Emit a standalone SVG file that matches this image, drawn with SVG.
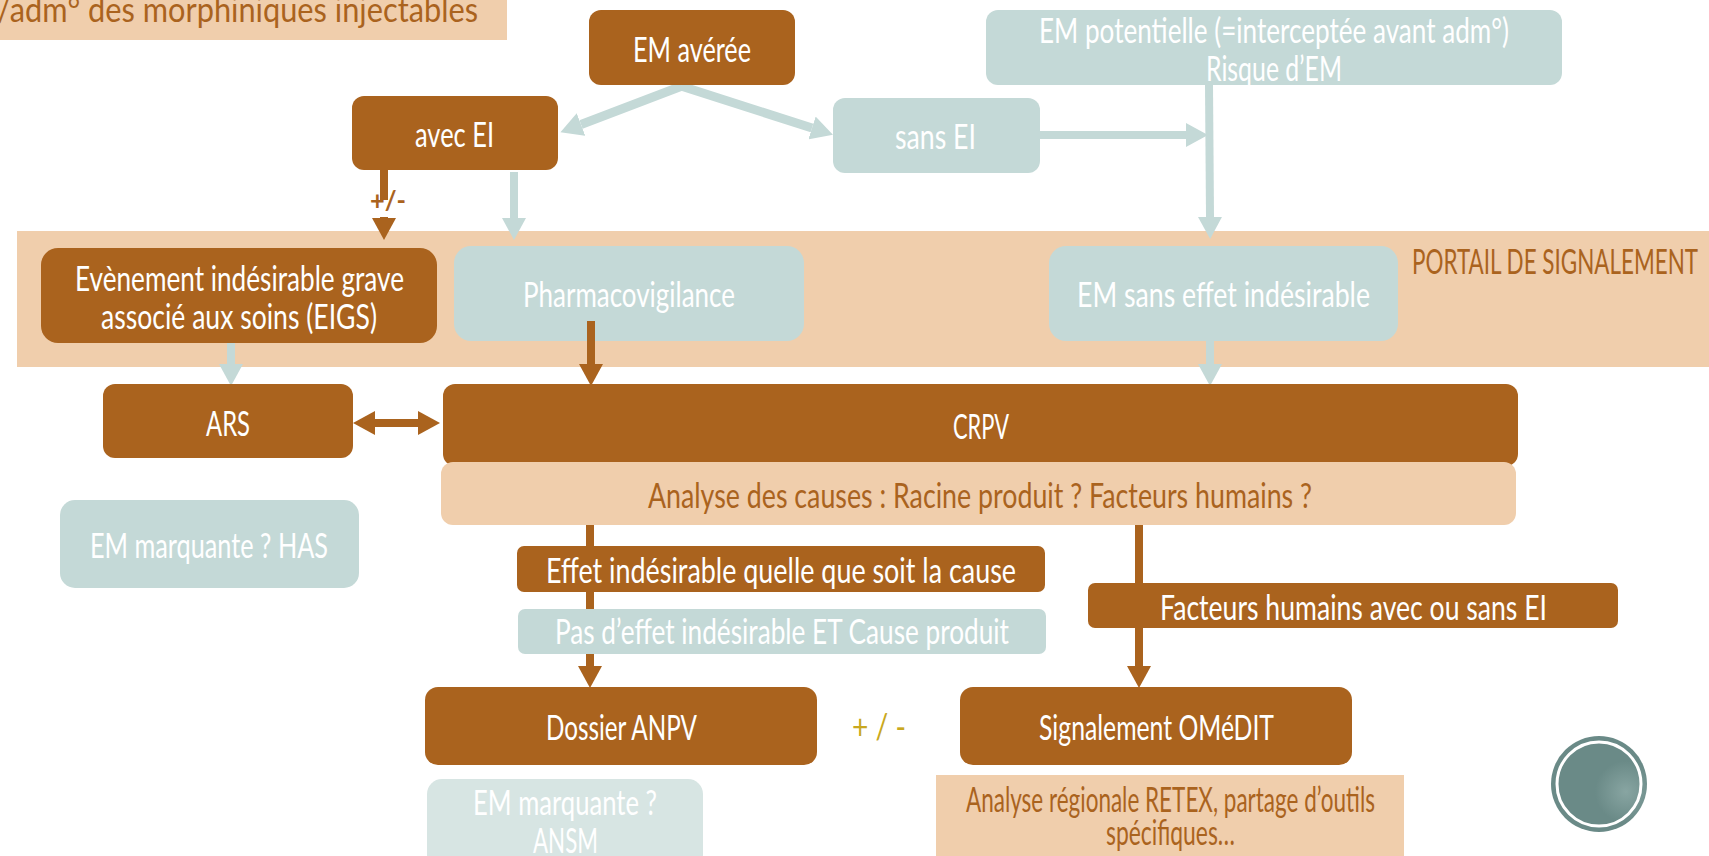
<svg xmlns="http://www.w3.org/2000/svg" width="1709" height="856" viewBox="0 0 1709 856">
<style>
text{font-family:"Lato","Liberation Sans",sans-serif;font-size:34px;font-weight:400}
.w{fill:#fff}.b{fill:#AA631E}.y{fill:#C9A820}
.br{fill:#AA631E}.lt{fill:#C4D9D7}.lt2{fill:#D7E5E3}.pe{fill:#F0CEAC}
.c{fill:none;stroke-width:8}
.d{stroke-width:9}
.cb{stroke:#AA631E}.cl{stroke:#C4D9D7}
.hb{fill:#AA631E}.hl{fill:#C4D9D7}
</style>
<defs>
<marker id="ab" markerUnits="userSpaceOnUse" viewBox="0 -12 22 24" refX="0" refY="0" markerWidth="22" markerHeight="24" orient="auto"><path class="hb" d="M0-12L22 0L0 12Z"/></marker>
<marker id="al" markerUnits="userSpaceOnUse" viewBox="0 -12 22 24" refX="0" refY="0" markerWidth="22" markerHeight="24" orient="auto"><path class="hl" d="M0-12L22 0L0 12Z"/></marker>
<marker id="abs" markerUnits="userSpaceOnUse" viewBox="0 -12 22 24" refX="22" refY="0" markerWidth="22" markerHeight="24" orient="auto"><path class="hb" d="M22-12L0 0L22 12Z"/></marker>
<radialGradient id="tex" cx="0.78" cy="0.58" r="0.32"><stop offset="0" stop-color="#88A5A2"/><stop offset="1" stop-color="#6A8A87"/></radialGradient>
</defs>

<g id="title"><rect class="pe" x="0" y="0" width="507" height="40"/><text class="b" x="-3" y="22" textLength="481" lengthAdjust="spacingAndGlyphs">/adm° des morphiniques injectables</text></g>
<g id="portail"><rect class="pe" x="17" y="231" width="1692" height="136"/><text class="b" x="1412" y="274" textLength="286" lengthAdjust="spacingAndGlyphs">PORTAIL DE SIGNALEMENT</text></g>
<g id="pharmacovigilance"><rect class="lt" x="454" y="246" width="350" height="95" rx="17"/><text class="w" x="523" y="307" textLength="212" lengthAdjust="spacingAndGlyphs">Pharmacovigilance</text></g>

<g id="connectors">
<path class="c d cl" marker-end="url(#al)" d="M682 86L581 124.500"/>
<path class="c d cl" marker-end="url(#al)" d="M681 86L812 128"/>
<path class="c cb" d="M384 170V200"/>
<path class="c cb" marker-end="url(#ab)" d="M384 217V218"/>
<path class="c cl" marker-end="url(#al)" d="M514 172V218"/>
<path class="c cl" marker-end="url(#al)" d="M1040 135H1186"/>
<path class="c cl" marker-end="url(#al)" d="M1209 85L1210 217"/>
<path class="c cl" marker-end="url(#al)" d="M231 343V364"/>
<path class="c cb" marker-end="url(#ab)" d="M591 321V364"/>
<path class="c cl" marker-end="url(#al)" d="M1210 341V364"/>
<path class="c cb" marker-start="url(#abs)" marker-end="url(#ab)" d="M375 423H418"/>
<path class="c cb" marker-end="url(#ab)" d="M590 525V666"/>
<path class="c cb" marker-end="url(#ab)" d="M1139 525V666"/>
</g>

<g id="em-avere"><rect class="br" x="589" y="10" width="206" height="75" rx="12"/><text class="w" x="633" y="62" textLength="118" lengthAdjust="spacingAndGlyphs">EM avérée</text></g>
<g id="avec-ei"><rect class="br" x="352" y="96" width="206" height="74" rx="12"/><text class="w" x="415" y="147" textLength="79" lengthAdjust="spacingAndGlyphs">avec EI</text></g>
<g id="sans-ei"><rect class="lt" x="833" y="98" width="207" height="75" rx="12"/><text class="w" x="895" y="149" textLength="81" lengthAdjust="spacingAndGlyphs">sans EI</text></g>
<g id="em-potentielle"><rect class="lt" x="986" y="10" width="576" height="75" rx="12"/><text class="w" x="1039" y="43" textLength="470" lengthAdjust="spacingAndGlyphs">EM potentielle (=interceptée avant adm°)</text><text class="w" x="1206" y="81" textLength="136" lengthAdjust="spacingAndGlyphs">Risque d’EM</text></g>
<g id="plus-minus-label"><text class="b" x="370" y="210" textLength="36" lengthAdjust="spacingAndGlyphs" style="font-size:27px;font-weight:700">+/-</text></g>
<g id="eigs"><rect class="br" x="41" y="248" width="396" height="95" rx="17"/><text class="w" x="75" y="291" textLength="329" lengthAdjust="spacingAndGlyphs">Evènement indésirable grave</text><text class="w" x="101" y="329" textLength="276" lengthAdjust="spacingAndGlyphs">associé aux soins (EIGS)</text></g>
<g id="em-sans-effet"><rect class="lt" x="1049" y="246" width="349" height="95" rx="17"/><text class="w" x="1077" y="307" textLength="293" lengthAdjust="spacingAndGlyphs">EM sans effet indésirable</text></g>
<g id="ars"><rect class="br" x="103" y="384" width="250" height="74" rx="12"/><text class="w" x="206" y="436" textLength="44" lengthAdjust="spacingAndGlyphs">ARS</text></g>
<g id="crpv"><rect class="br" x="443" y="384" width="1075" height="82" rx="12"/><text class="w" x="953" y="439" textLength="56" lengthAdjust="spacingAndGlyphs">CRPV</text></g>
<g id="analyse-causes"><rect class="pe" x="441" y="462" width="1075" height="63" rx="12"/><text class="b" x="648" y="508" textLength="664" lengthAdjust="spacingAndGlyphs">Analyse des causes : Racine produit ? Facteurs humains ?</text></g>
<g id="em-marquante-has"><rect class="lt" x="60" y="500" width="299" height="88" rx="15"/><text class="w" x="90" y="558" textLength="238" lengthAdjust="spacingAndGlyphs">EM marquante ? HAS</text></g>
<g id="effet-indesirable"><rect class="br" x="517" y="546" width="528" height="46" rx="7"/><text class="w" x="546" y="583" textLength="470" lengthAdjust="spacingAndGlyphs">Effet indésirable quelle que soit la cause</text></g>
<g id="pas-effet"><rect class="lt" x="518" y="609" width="528" height="45" rx="7"/><text class="w" x="555" y="644" textLength="454" lengthAdjust="spacingAndGlyphs">Pas d’effet indésirable ET Cause produit</text></g>
<g id="facteurs-humains"><rect class="br" x="1088" y="583" width="530" height="45" rx="7"/><text class="w" x="1160" y="620" textLength="387" lengthAdjust="spacingAndGlyphs">Facteurs humains avec ou sans EI</text></g>
<g id="dossier-anpv"><rect class="br" x="425" y="687" width="392" height="78" rx="13"/><text class="w" x="546" y="740" textLength="151" lengthAdjust="spacingAndGlyphs">Dossier ANPV</text></g>
<g id="plus-minus"><text class="y" x="852" y="739" textLength="54" lengthAdjust="spacingAndGlyphs">+ / -</text></g>
<g id="signalement-omedit"><rect class="br" x="960" y="687" width="392" height="78" rx="13"/><text class="w" x="1039" y="740" textLength="235" lengthAdjust="spacingAndGlyphs">Signalement OMéDIT</text></g>
<g id="em-marquante-ansm"><rect class="lt2" x="427" y="779" width="276" height="90" rx="15"/><text class="w" x="473" y="815" textLength="184" lengthAdjust="spacingAndGlyphs">EM marquante ?</text><text class="w" x="533" y="853" textLength="65" lengthAdjust="spacingAndGlyphs">ANSM</text></g>
<g id="analyse-regionale"><rect class="pe" x="936" y="775" width="468" height="81"/><text class="b" x="966" y="812" textLength="409" lengthAdjust="spacingAndGlyphs">Analyse régionale RETEX, partage d’outils</text><text class="b" x="1106" y="845" textLength="129" lengthAdjust="spacingAndGlyphs">spécifiques…</text></g>
<g id="badge"><circle cx="1599" cy="784" r="48" fill="url(#tex)"/><circle cx="1599" cy="784" r="42" fill="none" stroke="#fff" stroke-width="3"/></g>
</svg>
